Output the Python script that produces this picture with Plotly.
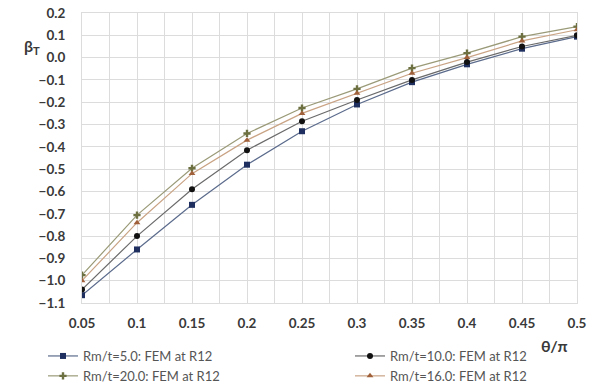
import plotly.graph_objects as go

theta = [0.05, 0.1, 0.15, 0.2, 0.25, 0.3, 0.35, 0.4, 0.45, 0.5]
rm5 = [-1.065, -0.86, -0.66, -0.48, -0.33, -0.21, -0.11, -0.03, 0.04, 0.094]
rm10 = [-1.04, -0.80, -0.59, -0.415, -0.285, -0.19, -0.10, -0.02, 0.05, 0.10]
rm20 = [-0.975, -0.706, -0.496, -0.34, -0.226, -0.14, -0.047, 0.02, 0.094, 0.139]
rm16 = [-1.0, -0.74, -0.52, -0.37, -0.25, -0.16, -0.07, 0.0, 0.075, 0.125]

series = [
    ("Rm/t=5.0: FEM at R12", rm5, "#1f3060", "#5b6b8c", "square", 6, "legend"),
    ("Rm/t=10.0: FEM at R12", rm10, "#111111", "#6a6a6a", "circle", 6, "legend2"),
    ("Rm/t=20.0: FEM at R12", rm20, "#6d7040", "#9a9a78", "cross", 6, "legend"),
    ("Rm/t=16.0: FEM at R12", rm16, "#a0603a", "#c9a384", "triangle-up", 6, "legend2"),
]

fig = go.Figure()
for name, vals, mcol, lcol, sym, sz, leg in series:
    fig.add_trace(go.Scatter(
        x=theta, y=vals, name=name, mode="lines+markers", legend=leg,
        line=dict(color=lcol, width=1.2),
        marker=dict(color=mcol, symbol=sym, size=sz),
    ))

W, H = 598, 387
L, R, T, B = 82, 21, 13, 84
pw = W - L - R
ph = H - T - B

legfont = dict(family="Lato", size=13, color="#555555")
fig.update_layout(
    width=W, height=H,
    margin=dict(l=L, r=R, t=T, b=B, autoexpand=False),
    paper_bgcolor="white", plot_bgcolor="white",
    showlegend=True,
    legend=dict(orientation="v", x=(43 - L) / pw, xanchor="left",
                y=-(341 - (H - B)) / ph, yanchor="top",
                font=legfont, itemwidth=30, tracegroupgap=0,
                bgcolor="rgba(0,0,0,0)"),
    legend2=dict(orientation="v", x=(350 - L) / pw, xanchor="left",
                 y=-(341 - (H - B)) / ph, yanchor="top",
                 font=legfont, itemwidth=30, tracegroupgap=0,
                 bgcolor="rgba(0,0,0,0)"),
    xaxis=dict(range=[0.05, 0.5], tickmode="array", tickvals=theta,
               ticktext=["0.05", "0.1", "0.15", "0.2", "0.25", "0.3", "0.35", "0.4", "0.45", "0.5"],
               showgrid=True, gridcolor="#dcdcdc", gridwidth=1,
               minor=dict(dtick=0.025, tick0=0.05, showgrid=True, gridcolor="#dcdcdc", gridwidth=1),
               zeroline=False, showline=True, linecolor="#dcdcdc", mirror=True,
               ticks="", ticklabelstandoff=8,
               tickfont=dict(family="Lato", size=13.5, color="#3a3a3a", weight="bold")),
    yaxis=dict(range=[-1.1, 0.2], dtick=0.1, tick0=0, tickformat=".1f",
               showgrid=True, gridcolor="#dcdcdc", gridwidth=1,
               zeroline=False, showline=True, linecolor="#dcdcdc", mirror=True,
               ticks="", ticklabelstandoff=13,
               tickfont=dict(family="Lato", size=13.5, color="#3a3a3a", weight="bold")),
    annotations=[
        dict(text="<b>β<sub>T</sub></b>", x=(22 - L) / pw, y=(H - B - 34) / ph,
             xref="paper", yref="paper", showarrow=False,
             font=dict(family="Lato", size=16, color="#3a3a3a")),
        dict(text="<b>θ/π</b>", x=(570 - L) / pw, y=-(334 - (H - B)) / ph,
             xref="paper", yref="paper", xanchor="right", yanchor="top",
             showarrow=False, font=dict(family="Lato", size=16, color="#3a3a3a")),
    ],
)

fig.write_html("out.html")
